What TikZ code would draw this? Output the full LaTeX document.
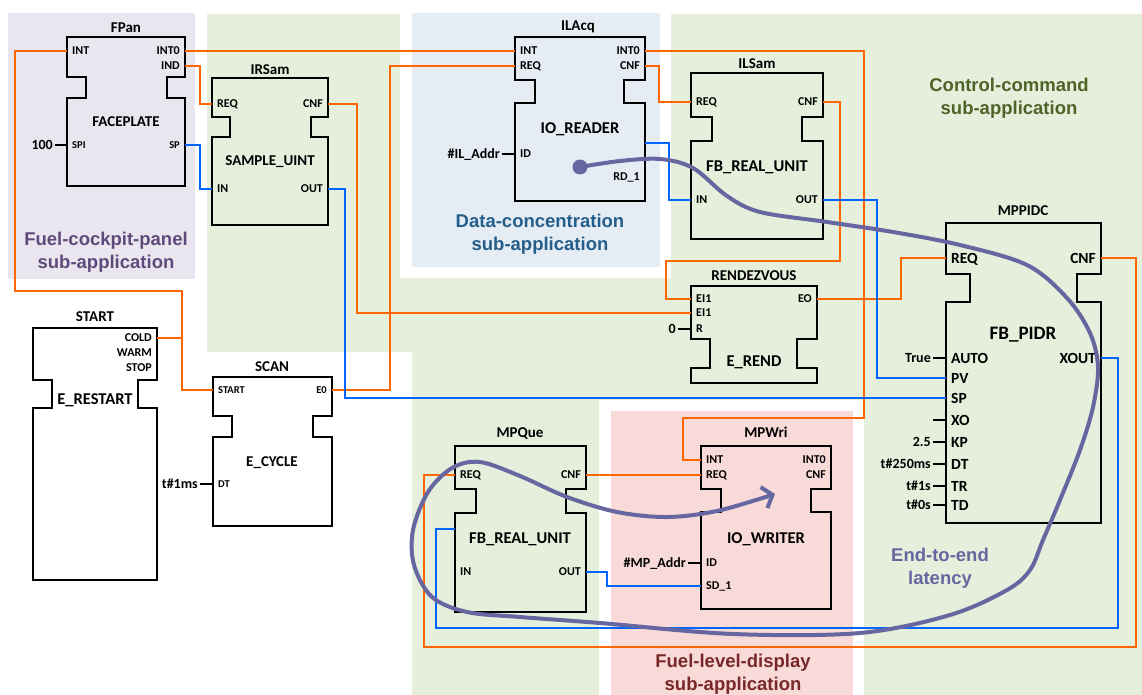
\documentclass[tikz,border=0pt]{standalone}
\usepackage{fontspec}
\setmainfont{Carlito}
\newfontfamily\arialsans{Liberation Sans}
\usepackage{tikz}
\usetikzlibrary{arrows.meta}
\usepackage{xcolor}
\definecolor{evtorange}{RGB}{255,102,0}
\definecolor{datblue}{RGB}{0,102,255}
\definecolor{latpurple}{RGB}{102,102,160}
\definecolor{bgpurple}{RGB}{234,230,239}
\definecolor{bggreen}{RGB}{230,239,220}
\definecolor{bgblue}{RGB}{229,236,244}
\definecolor{bgpink}{RGB}{248,218,216}
\definecolor{txpurple}{RGB}{96,74,123}
\definecolor{txblue}{RGB}{36,94,138}
\definecolor{txgreen}{RGB}{79,98,40}
\definecolor{txred}{RGB}{120,40,40}

\newcommand{\fbshape}[8]{%
  \draw[fbline] (#1,#5) -- (#4,#5) -- (#4,#6) -- (#3,#6) -- (#3,#7) -- (#4,#7)
    -- (#4,#8) -- (#1,#8) -- (#1,#7) -- (#2,#7) -- (#2,#6) -- (#1,#6) -- cycle;}

\begin{document}
\begin{tikzpicture}[x=1pt, y=-1pt,
  fbline/.style={draw=black, line width=1.6pt, line join=miter},
  evt/.style={draw=evtorange, line width=1.5pt},
  dat/.style={draw=datblue, line width=1.5pt},
  cline/.style={draw=black, line width=1.6pt},
  pinL/.style={anchor=west, inner xsep=5pt, inner ysep=0pt, text height=7.7pt, text depth=0pt,
    font=\bfseries\fontsize{12}{12}\selectfont},
  pinR/.style={pinL, anchor=east},
  spinL/.style={pinL, text height=6.8pt, font=\bfseries\fontsize{10.5}{10.5}\selectfont},
  spinR/.style={spinL, anchor=east},
  bigpinL/.style={pinL, text height=10pt, font=\bfseries\fontsize{15.5}{15.5}\selectfont},
  bigpinR/.style={bigpinL, anchor=east},
  cval/.style={anchor=east, inner xsep=2pt, inner ysep=0pt, text height=9pt, text depth=0pt,
    font=\bfseries\fontsize{14}{14}\selectfont},
  inst/.style={inner sep=0pt, text height=9.7pt, text depth=0pt, font=\bfseries\fontsize{15}{15}\selectfont},
  fbtype/.style={inner sep=0pt, text height=9.7pt, text depth=0pt, font=\bfseries\fontsize{15}{15}\selectfont},
  fbtypeL/.style={fbtype, text height=10.6pt, font=\bfseries\fontsize{16.5}{16.5}\selectfont},
  applbl/.style={align=center, font=\arialsans\bfseries\fontsize{18.5}{23}\selectfont},
  latency/.style={draw=latpurple, line width=4pt, line cap=round, line join=round}]
\useasboundingbox (0,0) rectangle (1142,695);

\fill[bgpurple] (8,13) rectangle (195,279);
\fill[bgblue] (412,13) rectangle (660,267);
\fill[bggreen] (207,14) rectangle (400,352);
\fill[bggreen] (400,278) rectangle (412,352);
\fill[bggreen] (412,278) rectangle (671,400);
\fill[bggreen] (671,14) rectangle (1142,400);
\fill[bggreen] (864,400) rectangle (1142,695);
\fill[bggreen] (412,400) rectangle (599,695);
\fill[bgpink] (611,411) rectangle (853,695);

\node (lbl-fcp) [applbl, text=txpurple] at (106,252) {Fuel-cockpit-panel\\sub-application};
\node (lbl-dc) [applbl, text=txblue] at (540,234) {Data-concentration\\sub-application};
\node (lbl-cc) [applbl, text=txgreen] at (1009,98) {Control-command\\sub-application};
\node (lbl-fld) [applbl, text=txred] at (733,674) {Fuel-level-display\\sub-application};
\node (lbl-lat) [applbl, text=latpurple] at (940,568) {End-to-end\\latency};

\fbshape{67}{86}{167}{185}{37}{77}{98}{186}
\node (fpan) [inst] at (126,28) {FPan};
\node (fpan-type) [fbtype] at (126,122) {FACEPLATE};
\node (fpan-int) [pinL] at (67,51) {INT};
\node (fpan-int0) [pinR] at (185,51) {INT0};
\node (fpan-ind) [pinR] at (185,66) {IND};
\node (fpan-spi) [spinL] at (67,145) {SPI};
\node (fpan-sp) [spinR] at (185,145) {SP};
\node (c-spi) [cval] at (55,145) {100};

\fbshape{212}{230}{311}{328}{78}{117}{137}{225}
\node (irsam) [inst] at (270,70) {IRSam};
\node (irsam-type) [fbtype] at (270,161) {SAMPLE\_UINT};
\node (irsam-req) [pinL] at (212,104) {REQ};
\node (irsam-cnf) [pinR] at (328,104) {CNF};
\node (irsam-in) [pinL] at (212,189) {IN};
\node (irsam-out) [pinR] at (328,189) {OUT};

\fbshape{515}{535}{624}{645}{37}{80}{103}{201}
\node (ilacq) [inst] at (578,26) {ILAcq};
\node (ilacq-type) [fbtypeL] at (580,128) {IO\_READER};
\node (ilacq-int) [pinL] at (515,51) {INT};
\node (ilacq-req) [pinL] at (515,66) {REQ};
\node (ilacq-int0) [pinR] at (645,51) {INT0};
\node (ilacq-cnf) [pinR] at (645,66) {CNF};
\node (ilacq-id) [pinL] at (515,154) {ID};
\node (ilacq-rd) [pinR] at (645,177) {RD\_1};
\coordinate (ilacq-dout) at (645,143);
\node (c-ilid) [cval] at (502,154) {\#IL\_Addr};

\fbshape{691}{712}{802}{823}{73}{117}{141}{239}
\node (ilsam) [inst] at (757,64) {ILSam};
\node (ilsam-type) [fbtypeL] at (757,166) {FB\_REAL\_UNIT};
\node (ilsam-req) [pinL] at (691,102) {REQ};
\node (ilsam-cnf) [pinR] at (823,102) {CNF};
\node (ilsam-in) [pinL] at (691,200) {IN};
\node (ilsam-out) [pinR] at (823,200) {OUT};

\fbshape{946}{970}{1077}{1101}{223}{274}{302}{523}
\node (pidc) [inst] at (1023,211) {MPPIDC};
\node (pidc-type) [fbtype, text height=12.2pt, font=\bfseries\fontsize{19}{19}\selectfont] at (1023,333) {FB\_PIDR};
\node (pidc-req) [bigpinL] at (946,258) {REQ};
\node (pidc-cnf) [bigpinR] at (1101,258) {CNF};
\node (pidc-auto) [bigpinL] at (946,358) {AUTO};
\node (pidc-xout) [bigpinR] at (1101,358) {XOUT};
\node (pidc-pv) [bigpinL] at (946,378) {PV};
\node (pidc-sp) [bigpinL] at (946,398) {SP};
\node (pidc-xo) [bigpinL] at (946,420) {XO};
\node (pidc-kp) [bigpinL] at (946,442) {KP};
\node (pidc-dt) [bigpinL] at (946,464) {DT};
\node (pidc-tr) [bigpinL] at (946,486) {TR};
\node (pidc-td) [bigpinL] at (946,505) {TD};
\node (c-auto) [cval] at (933,358) {True};
\coordinate (c-xo) at (933,420);
\node (c-kp) [cval] at (933,442) {2.5};
\node (c-dt) [cval] at (933,464) {t\#250ms};
\node (c-tr) [cval] at (933,486) {t\#1s};
\node (c-td) [cval] at (933,505) {t\#0s};

\fbshape{691}{710}{797}{817}{286}{339}{368}{383}
\node (rend) [inst] at (754,276) {RENDEZVOUS};
\node (rend-type) [fbtypeL] at (754,361) {E\_REND};
\node (rend-ei1a) [pinL] at (691,299) {EI1};
\node (rend-ei1b) [pinL] at (691,313) {EI1};
\node (rend-r) [pinL] at (691,329) {R};
\node (rend-eo) [pinR] at (817,299) {EO};
\node (c-r) [cval] at (678,329) {0};

\fbshape{33}{52}{138}{157}{328}{380}{408}{580}
\node (start) [inst] at (95,317) {START};
\node (start-type) [fbtypeL] at (95,399) {E\_RESTART};
\node (start-cold) [pinR] at (157,338) {COLD};
\node (start-warm) [pinR] at (157,353) {WARM};
\node (start-stop) [pinR] at (157,368) {STOP};

\fbshape{213}{232}{313}{332}{377}{416}{437}{526}
\node (scan) [inst] at (272,367) {SCAN};
\node (scan-type) [fbtype] at (272,462) {E\_CYCLE};
\node (scan-start) [spinL] at (213,390) {START};
\node (scan-e0) [spinR] at (332,390) {E0};
\node (scan-dt) [spinL] at (213,484) {DT};
\node (c-scandt) [cval] at (200,484) {t\#1ms};

\fbshape{455}{476}{566}{586}{446}{489}{513}{612}
\node (mpque) [inst] at (520,433) {MPQue};
\node (mpque-type) [fbtypeL] at (520,538) {FB\_REAL\_UNIT};
\node (mpque-req) [pinL] at (455,475) {REQ};
\node (mpque-cnf) [pinR] at (586,475) {CNF};
\node (mpque-in) [pinL] at (455,572) {IN};
\node (mpque-out) [pinR] at (586,572) {OUT};
\coordinate (mpque-din) at (455,529);

\fbshape{701}{721}{811}{831}{446}{489}{512}{609}
\node (mpwri) [inst] at (766,433) {MPWri};
\node (mpwri-type) [fbtypeL] at (766,538) {IO\_WRITER};
\node (mpwri-int) [pinL] at (701,460) {INT};
\node (mpwri-req) [pinL] at (701,475) {REQ};
\node (mpwri-int0) [pinR] at (831,460) {INT0};
\node (mpwri-cnf) [pinR] at (831,475) {CNF};
\node (mpwri-id) [pinL] at (701,563) {ID};
\node (mpwri-sd) [pinL] at (701,586) {SD\_1};
\node (c-mpid) [cval] at (688,563) {\#MP\_Addr};

\draw[cline] (c-spi.east) -- (fpan-spi.west);
\draw[cline] (c-ilid.east) -- (ilacq-id.west);
\draw[cline] (c-mpid.east) -- (mpwri-id.west);
\draw[cline] (c-scandt.east) -- (scan-dt.west);
\draw[cline] (c-r.east) -- (rend-r.west);
\draw[cline] (c-auto.east) -- (pidc-auto.west);
\draw[cline] (c-xo) -- (pidc-xo.west);
\draw[cline] (c-kp.east) -- (pidc-kp.west);
\draw[cline] (c-dt.east) -- (pidc-dt.west);
\draw[cline] (c-tr.east) -- (pidc-tr.west);
\draw[cline] (c-td.east) -- (pidc-td.west);

\draw[evt] (fpan-int.west) -| (15,291) -| (182,390) -- (scan-start.west);
\draw[evt] (start-cold.east) -- (182,338);
\draw[evt] (fpan-int0.east) -- (ilacq-int.west);
\draw[evt] (ilacq-int0.east) -| (864,418) -| (683,460) -- (mpwri-int.west);
\draw[evt] (fpan-ind.east) -| (200,104) -- (irsam-req.west);
\draw[evt] (irsam-cnf.east) -| (357,313) -- (rend-ei1b.west);
\draw[evt] (scan-e0.east) -| (390,66) -- (ilacq-req.west);
\draw[evt] (ilacq-cnf.east) -| (659,102) -- (ilsam-req.west);
\draw[evt] (ilsam-cnf.east) -| (840,261) -| (666,299) -- (rend-ei1a.west);
\draw[evt] (rend-eo.east) -| (901,258) -- (pidc-req.west);
\draw[evt] (pidc-cnf.east) -| (1136,647) -| (424,475) -- (mpque-req.west);
\draw[evt] (mpque-cnf.east) -- (mpwri-req.west);

\draw[dat] (fpan-sp.east) -| (200,189) -- (irsam-in.west);
\draw[dat] (irsam-out.east) -| (345,398) -- (pidc-sp.west);
\draw[dat] (ilacq-dout) -| (669,200) -- (ilsam-in.west);
\draw[dat] (ilsam-out.east) -| (877,378) -- (pidc-pv.west);
\draw[dat] (pidc-xout.east) -| (1118,628) -| (436,529) -- (mpque-din);
\draw[dat] (mpque-out.east) -| (607,586) -- (mpwri-sd.west);

\node (latdot) [circle, fill=latpurple, inner sep=0pt, minimum size=15pt] at (580,167) {};
\draw[latency, -{Straight Barb[length=9pt, width=22pt]}] plot[smooth, tension=0.55] coordinates {
  (580,167) (620,161) (660,159) (693,168) (727,196) (760,212) (827,222) (893,232)
  (960,245) (1027,265) (1067,298) (1090,333) (1098,367) (1093,407) (1080,450)
  (1060,500) (1043,540) (1030,570) (1007,590) (950,615) (860,633) (733,634)
  (600,623) (520,617) (467,612) (432,597) (414,565) (413,530) (428,492) (452,468)
  (480,462) (520,476) (567,497) (617,512) (667,517) (717,511) (775,494)};
\end{tikzpicture}
\end{document}
